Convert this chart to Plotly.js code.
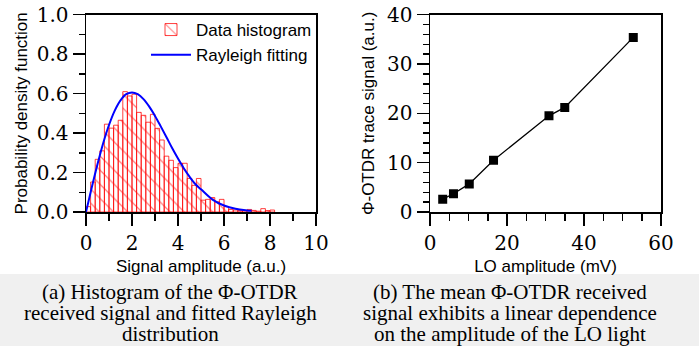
<!DOCTYPE html>
<html>
<head>
<meta charset="utf-8">
<script src="https://cdn.plot.ly/plotly-3.0.1.min.js"></script>
<style>
  html, body { margin: 0; padding: 0; background: #ffffff; }
  #chart { width: 699px; height: 346px; }
</style>
</head>
<body>
<div id="chart"></div>
<script>
// ---- Panel (a): histogram of the received signal ----
const binCenters = [0.1, 0.3, 0.5, 0.7, 0.9, 1.1, 1.3, 1.5, 1.7, 1.9,
                    2.1, 2.3, 2.5, 2.7, 2.9, 3.1, 3.3, 3.5, 3.7, 3.9,
                    4.1, 4.3, 4.5, 4.7, 4.9, 5.1, 5.3, 5.5, 5.7, 5.9,
                    6.1, 6.3, 6.5, 6.7, 6.9, 7.1, 7.3, 7.5, 7.7, 7.9, 8.1];
const binDensity = [0.027, 0.152, 0.267, 0.310, 0.445, 0.425, 0.440, 0.465, 0.610, 0.588,
                    0.597, 0.505, 0.490, 0.455, 0.495, 0.424, 0.365, 0.283, 0.262, 0.225,
                    0.247, 0.247, 0.170, 0.135, 0.170, 0.060, 0.064, 0.073, 0.052, 0.064,
                    0.027, 0.013, 0.010, 0.007, 0.006, 0.013, 0.008, 0.004, 0.017, 0.007, 0.010];
const binWidth = 0.2;

// Rayleigh fitting curve
const fitX = [0, 0.25, 0.5, 0.75, 1.0, 1.25, 1.5, 1.75, 2.0, 2.25, 2.5, 2.75, 3.0,
              3.25, 3.5, 3.75, 4.0, 4.25, 4.5, 4.75, 5.0, 5.5, 6.0, 6.5, 7.0, 7.2];
const fitY = [0, 0.124, 0.242, 0.350, 0.441, 0.514, 0.566, 0.597, 0.606, 0.597, 0.572, 0.534, 0.487,
              0.434, 0.379, 0.323, 0.271, 0.222, 0.179, 0.142, 0.115, 0.063, 0.033, 0.016, 0.008, 0.006];

// ---- Panel (b): mean trace signal vs LO amplitude ----
const loAmplitude = [3.3, 6.1, 10.2, 16.5, 30.9, 35.0, 52.8];
const traceSignal = [2.6, 3.7, 5.7, 10.5, 19.5, 21.2, 35.4];

// ---- Texts ----
const legendNames = ['Data histogram', 'Rayleigh fitting'];
const xTitleA = 'Signal amplitude (a.u.)';
const yTitleA = 'Probability density function';
const xTitleB = 'LO amplitude (mV)';
const yTitleB = '\u03A6-OTDR trace signal (a.u.)';
const captionA = ['(a) Histogram of the \u03A6-OTDR', 'received signal and fitted Rayleigh', 'distribution'];
const captionB = ['(b) The mean \u03A6-OTDR received', 'signal exhibits a linear dependence', 'on the amplitude of the LO light'];

const W = 699, H = 346;
const px = v => v / W;
const py = v => 1 - v / H;

const tickFont = { family: 'DejaVu Serif', size: 20, color: '#000' };
const titleFont = { family: 'Liberation Sans, Arial, sans-serif', size: 17, color: '#000' };

function axisBase(extra) {
  return Object.assign({
    showline: true, linecolor: '#000', linewidth: 1.5, mirror: true,
    showgrid: false, zeroline: false,
    ticks: 'outside', ticklen: 12, tickwidth: 1.5, tickcolor: '#000',
    tickfont: tickFont, automargin: false
  }, extra);
}

const traces = [
  {
    type: 'bar', x: binCenters, y: binDensity, width: binWidth,
    name: legendNames[0], xaxis: 'x', yaxis: 'y',
    marker: {
      color: 'rgba(255,255,255,0)',
      line: { color: 'rgba(255,0,0,0.75)', width: 1 },
      pattern: { shape: '\\', fgcolor: 'rgba(255,60,60,0.7)', bgcolor: 'rgba(255,255,255,0)', size: 10, solidity: 0.12 }
    },
    hoverinfo: 'skip'
  },
  {
    type: 'scatter', mode: 'lines', x: fitX, y: fitY,
    name: legendNames[1], xaxis: 'x', yaxis: 'y',
    line: { color: '#0000ff', width: 2, shape: 'spline' }
  },
  {
    type: 'scatter', mode: 'lines+markers', x: loAmplitude, y: traceSignal,
    xaxis: 'x2', yaxis: 'y2', showlegend: false,
    line: { color: '#000', width: 1.3 },
    marker: { symbol: 'square', size: 9, color: '#000' }
  }
];

const layout = {
  width: W, height: H,
  margin: { l: 0, r: 0, t: 0, b: 0 },
  paper_bgcolor: '#ffffff', plot_bgcolor: '#ffffff',
  bargap: 0,
  showlegend: true,
  legend: {
    x: px(146), y: py(12), xanchor: 'left', yanchor: 'top',
    bgcolor: 'rgba(0,0,0,0)', font: titleFont, itemwidth: 40,
    tracegroupgap: 0
  },
  xaxis: axisBase({
    domain: [px(86), px(316)], range: [0, 10], dtick: 2, tick0: 0, anchor: 'y',
    minor: { dtick: 1, ticklen: 7, tickwidth: 1.5, tickcolor: '#000', ticks: 'outside' },
    title: { text: xTitleA, font: titleFont, standoff: 6 }
  }),
  yaxis: axisBase({
    domain: [py(212), py(14.7)], range: [0, 1], dtick: 0.2, tick0: 0, tickformat: '.1f', anchor: 'x',
    minor: { dtick: 0.1, ticklen: 6, tickwidth: 1.5, tickcolor: '#000', ticks: 'outside' },
    title: { text: yTitleA, font: titleFont, standoff: 4 }
  }),
  xaxis2: axisBase({
    domain: [px(430), px(661)], range: [0, 60], dtick: 20, tick0: 0, anchor: 'y2',
    minor: { dtick: 5, ticklen: 7, tickwidth: 1.5, tickcolor: '#000', ticks: 'outside' },
    title: { text: xTitleB, font: titleFont, standoff: 6 }
  }),
  yaxis2: axisBase({
    domain: [py(212), py(14.7)], range: [0, 40], dtick: 10, tick0: 0, anchor: 'x2',
    minor: { dtick: 2, ticklen: 6, tickwidth: 1.5, tickcolor: '#000', ticks: 'outside' },
    title: { text: yTitleB, font: titleFont, standoff: 8 }
  }),
  shapes: [
    { type: 'rect', xref: 'paper', yref: 'paper', x0: 0, x1: 1, y0: 0, y1: py(274),
      fillcolor: '#f0f0f0', line: { width: 0 }, layer: 'below' }
  ],
  annotations: []
};

const capFont = { family: 'Liberation Serif, Times New Roman, serif', size: 21, color: '#000' };
const lineCenters = [292, 313, 334];
captionA.forEach((t, i) => layout.annotations.push({
  xref: 'paper', yref: 'paper', x: px(170), y: py(lineCenters[i]), xanchor: 'center', yanchor: 'middle',
  text: t, showarrow: false, font: capFont
}));
captionB.forEach((t, i) => layout.annotations.push({
  xref: 'paper', yref: 'paper', x: px(510), y: py(lineCenters[i]), xanchor: 'center', yanchor: 'middle',
  text: t, showarrow: false, font: capFont
}));

Plotly.newPlot('chart', traces, layout, { displayModeBar: false, staticPlot: true });
</script>
</body>
</html>
